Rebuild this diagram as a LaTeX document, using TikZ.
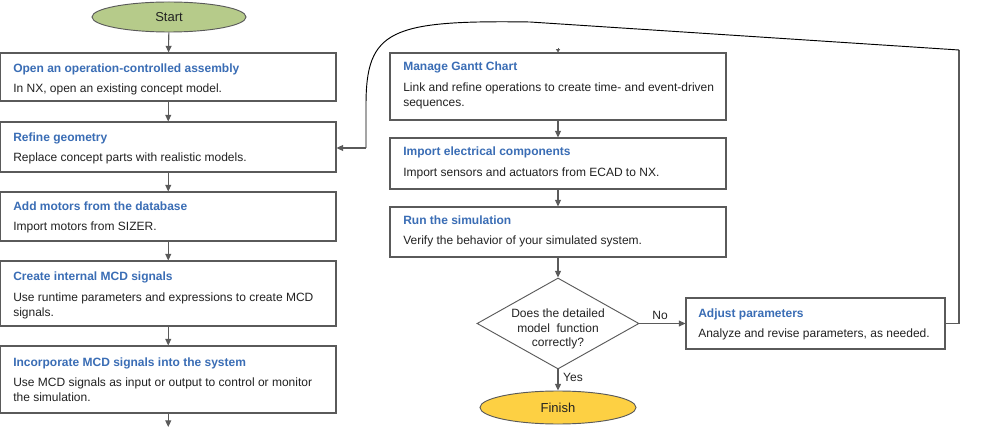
\documentclass[tikz,border=0pt]{standalone}
\usepackage{fontspec}
\setmainfont{Liberation Sans}
\usetikzlibrary{shapes.geometric,arrows.meta}
\definecolor{ttlblue}{HTML}{3A6DB5}
\definecolor{bodytxt}{HTML}{222222}
\definecolor{edge}{HTML}{5A5A5A}
\definecolor{startgreen}{HTML}{B6CB8A}
\definecolor{finishyellow}{HTML}{FDD043}
\tikzset{
  stepbox/.style={draw=edge, line width=0.8pt, fill=white, inner sep=0pt},
  ttl/.style={font=\fontsize{9pt}{11.25pt}\selectfont\bfseries, text=ttlblue, anchor=base west, inner sep=0pt},
  bdy/.style={font=\fontsize{9pt}{11.25pt}\selectfont, text=bodytxt, anchor=base west, inner sep=0pt, align=left},
  term/.style={ellipse, draw=edge, line width=0.7pt, inner sep=0pt, font=\fontsize{9.75pt}{11pt}\selectfont, text=bodytxt},
  decide/.style={diamond, draw=edge, line width=0.7pt, inner sep=0pt, fill=white},
  flow/.style={draw=edge, line width=0.8pt, -{Triangle[length=5pt,width=4.5pt]}},
  lbl/.style={font=\fontsize{9pt}{11pt}\selectfont, text=bodytxt, inner sep=0pt},
}
\begin{document}
\begin{tikzpicture}[x=0.75pt,y=-0.75pt]
\useasboundingbox (0,0) rectangle (992,445);
% terminals
\node[term, fill=startgreen, minimum width=115.5pt, minimum height=22.5pt] (start) at (169,17) {Start};
\node[term, fill=finishyellow, minimum width=117pt, minimum height=24.75pt] (finish) at (558,407.5) {Finish};
% left column
\node[stepbox, minimum width=251.6pt, minimum height=36pt] (b1) at (168.25,77) {};
\node[stepbox, minimum width=251.6pt, minimum height=37.5pt] (b2) at (168.25,147) {};
\node[stepbox, minimum width=251.6pt, minimum height=36.75pt] (b3) at (168.25,216.5) {};
\node[stepbox, minimum width=251.6pt, minimum height=48.75pt] (b4) at (168.25,293.5) {};
\node[stepbox, minimum width=251.6pt, minimum height=50.25pt] (b5) at (168.25,379.5) {};
% right column
\node[stepbox, minimum width=252pt, minimum height=50.25pt] (g) at (558,86.5) {};
\node[stepbox, minimum width=252pt, minimum height=38.25pt] (e) at (558,163.5) {};
\node[stepbox, minimum width=252pt, minimum height=37.5pt] (r) at (558,232) {};
\node[stepbox, minimum width=194.25pt, minimum height=38.25pt] (adj) at (815.5,323.5) {};
\node[decide, minimum width=121.5pt, minimum height=68.25pt] (dec) at (558,323.5) {};
% texts (multi-line bodies are anchored at the baseline of their last line)
\node[ttl] (t1) at (13,73) {Open an operation-controlled assembly};
\node[bdy] (d1) at (13,93) {In NX, open an existing concept model.};
\node[ttl] (t2) at (13,142) {Refine geometry};
\node[bdy] (d2) at (13,162) {Replace concept parts with realistic models.};
\node[ttl] (t3) at (13,211) {Add motors from the database};
\node[bdy] (d3) at (13,231) {Import motors from SIZER.};
\node[ttl] (t4) at (13,281) {Create internal MCD signals};
\node[bdy] (d4) at (13,316) {Use runtime parameters and expressions to create MCD\\signals.};
\node[ttl] (t5) at (13,366.5) {Incorporate MCD signals into the system};
\node[bdy] (d5) at (13,401.5) {Use MCD signals as input or output to control or monitor\\the simulation.};
\node[ttl] (tg) at (403,71) {Manage Gantt Chart};
\node[bdy] (dg) at (403,106.5) {Link and refine operations to create time- and event-driven\\sequences.};
\node[ttl] (te) at (403,156) {Import electrical components};
\node[bdy] (de) at (403,176.5) {Import sensors and actuators from ECAD to NX.};
\node[ttl] (tr) at (403,225) {Run the simulation};
\node[bdy] (dr) at (403,245) {Verify the behavior of your simulated system.};
\node[ttl] (ta) at (698,317) {Adjust parameters};
\node[bdy] (da) at (698,337) {Analyze and revise parameters, as needed.};
\node[lbl, align=center, font=\fontsize{9pt}{10.9pt}\selectfont] (qd) at (558,329) {Does the detailed\\model\ \ function\\correctly?};
\node[lbl] (no) at (660,315) {No};
\node[lbl] (yes) at (573,377) {Yes};
% connectors
\draw[flow] (start) -- (b1);
\draw[flow] (b1) -- (b2);
\draw[flow] (b2) -- (b3);
\draw[flow] (b3) -- (b4);
\draw[flow] (b4) -- (b5);
\coordinate (loose) at (168.25,427);
\draw[flow] (b5) -- (loose);
\coordinate (gtop) at (558,48);
\draw[draw=edge, line width=0.6pt, -{Triangle[length=2.5pt,width=3pt]}] (gtop) -- (g);
\draw[flow] (g) -- (e);
\draw[flow] (e) -- (r);
\draw[flow] (r) -- (dec);
\draw[flow] (dec) -- (adj);
\draw[flow] (dec) -- (finish);
\coordinate (fb1) at (959,323.5);
\coordinate (fb2) at (959,50);
\coordinate (fb3) at (530,22);
\coordinate (fb4) at (366,105);
\coordinate (fb5) at (366,148);
\draw[draw=edge, line width=0.8pt] (adj.east) -- (fb1) -- (fb2);
\draw[black, line width=0.7pt] (fb2) -- (fb3) .. controls (390,20) and (366,30) .. (fb4) -- (fb5);
\draw[flow] (fb5) -- (b2.east |- fb5);
\end{tikzpicture}
\end{document}
